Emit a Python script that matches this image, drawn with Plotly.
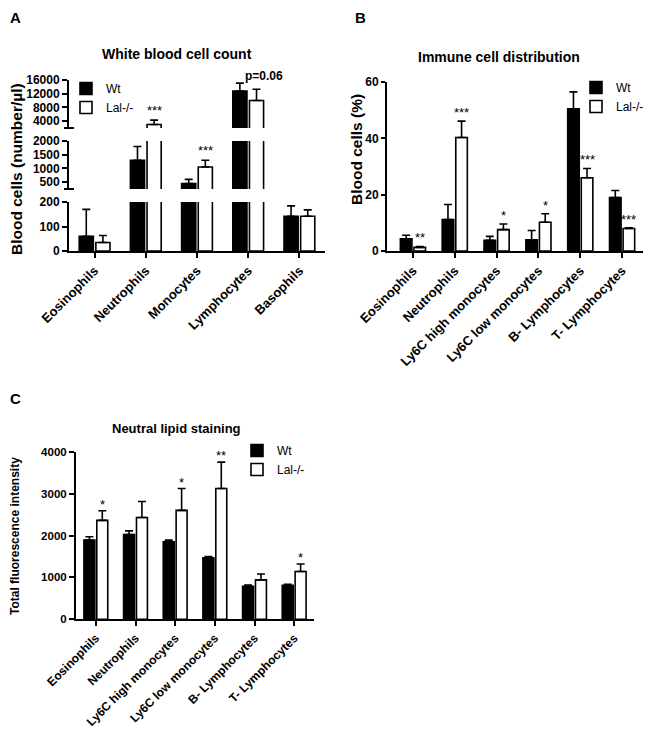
import plotly.graph_objects as go

W, H = 650, 739
FONT = "Liberation Sans, Arial, Helvetica, sans-serif"


def fx(p):
    return p / W


def fy(p):
    return 1 - p / H


# ---------------- Panel A data: White blood cell count ----------------
a_cats = ["Eosinophils", "Neutrophils", "Monocytes", "Lymphocytes", "Basophils"]
a_wt = [60, 1300, 450, 12800, 142]
a_wt_err = [110, 500, 150, 2300, 42]
a_lal = [35, 3000, 1050, 10000, 142]
a_lal_err = [28, 1300, 250, 3300, 26]
a_sig = ["", "***", "***", "p=0.06", ""]

# ---------------- Panel B data: Immune cell distribution ----------------
b_cats = ["Eosinophils", "Neutrophils", "Ly6C high monocytes", "Ly6C low monocytes",
          "B- Lymphocytes", "T- Lymphocytes"]
b_wt = [4.3, 11.2, 3.8, 4.0, 50.5, 19.0]
b_wt_err = [1.3, 5.3, 1.4, 3.3, 6.0, 2.5]
b_lal = [1.3, 40.3, 7.6, 10.2, 26.0, 8.0]
b_lal_err = [0.3, 5.8, 2.0, 3.0, 3.3, 0.2]
b_sig = ["**", "***", "*", "*", "***", "***"]

# ---------------- Panel C data: Neutral lipid staining ----------------
c_cats = ["Eosinophils", "Neutrophils", "Ly6C high monocytes", "Ly6C low monocytes",
          "B- Lymphocytes", "T- Lymphocytes"]
c_wt = [1890, 2020, 1850, 1470, 790, 810]
c_wt_err = [80, 90, 40, 30, 30, 25]
c_lal = [2360, 2430, 2600, 3120, 940, 1140]
c_lal_err = [230, 380, 520, 630, 140, 180]
c_sig = ["*", "", "*", "**", "", "*"]

series_names = ["Wt", "Lal-/-"]
fills = ["black", "white"]

fig = go.Figure()


def add_pair(cats, wt, wt_err, lal, lal_err, xa, ya, legend, show):
    for name, vals, errs, fill in zip(series_names, [wt, lal], [wt_err, lal_err], fills):
        fig.add_trace(go.Bar(
            x=cats, y=vals, name=name, xaxis=xa, yaxis=ya,
            marker=dict(color=fill, line=dict(color="black", width=1.6)),
            error_y=dict(type="data", symmetric=False, array=errs,
                         arrayminus=[0] * len(errs), color="black",
                         thickness=1.6, width=4),
            legend=legend, showlegend=show, hoverinfo="x+y",
        ))


# Panel A: three stacked segments of a broken y axis
add_pair(a_cats, a_wt, a_wt_err, a_lal, a_lal_err, "x", "y", "legend", False)
add_pair(a_cats, a_wt, a_wt_err, a_lal, a_lal_err, "x", "y2", "legend", False)
add_pair(a_cats, a_wt, a_wt_err, a_lal, a_lal_err, "x", "y3", "legend", True)
# Panel B
add_pair(b_cats, b_wt, b_wt_err, b_lal, b_lal_err, "x2", "y4", "legend2", True)
# Panel C
add_pair(c_cats, c_wt, c_wt_err, c_lal, c_lal_err, "x3", "y5", "legend3", True)

axis_common = dict(showline=True, linewidth=2, linecolor="black", showgrid=False,
                   zeroline=False, ticks="outside", ticklen=5, tickwidth=2,
                   tickcolor="black", automargin=False)


def xax(domain, anchor, rng, size):
    d = dict(axis_common)
    d.update(domain=domain, anchor=anchor, range=rng, type="category",
             tickangle=-45, tickfont=dict(family=FONT, size=size, color="black",
                                          weight="bold"))
    return d


def yax(domain, anchor, rng, vals, texts, size=12, ticklen=5):
    d = dict(axis_common)
    d.update(domain=domain, anchor=anchor, range=rng, tickvals=vals,
             ticktext=texts, ticklen=ticklen,
             tickfont=dict(family=FONT, size=size, color="black", weight="bold"))
    return d


def legend_cfg(px, py, size):
    return dict(x=fx(px), y=fy(py), xanchor="left", yanchor="top",
                font=dict(family=FONT, size=size, color="black"),
                bgcolor="rgba(0,0,0,0)", tracegroupgap=0)


fig.update_layout(
    width=W, height=H, margin=dict(l=0, r=0, t=0, b=0, autoexpand=False),
    paper_bgcolor="white", plot_bgcolor="white",
    barmode="group", bargap=0.35, bargroupgap=0.15,
    font=dict(family=FONT, color="black"),
    xaxis=xax([fx(69), fx(325)], "y", [-0.5, 4.5], 13),
    yaxis=yax([fy(251), fy(202)], "x", [0, 200], [0, 100, 200], ["0", "100", "200"]),
    yaxis2=yax([fy(189), fy(141)], "x", [250, 2000], [500, 1000, 1500, 2000],
               ["500", "1000", "1500", "2000"]),
    yaxis3=yax([fy(128), fy(80)], "x", [2000, 16000], [4000, 8000, 12000, 16000],
               ["4000", "8000", "12000", "16000"]),
    xaxis2=xax([fx(387), fx(643)], "y4", [-0.62, 5.5], 13),
    yaxis4=yax([fy(251), fy(82)], "x2", [0, 60], [0, 20, 40, 60], ["0", "20", "40", "60"],
               ticklen=4),
    xaxis3=xax([fx(76), fx(314)], "y5", [-0.5, 5.5], 12),
    yaxis5=yax([fy(619.3), fy(451.7)], "x3", [0, 4000], [0, 1000, 2000, 3000, 4000],
               ["0", "1000", "2000", "3000", "4000"], size=11.5),
    legend=legend_cfg(66, 74, 12),
    legend2=legend_cfg(576, 73, 12),
    legend3=legend_cfg(237, 436, 12),
)

# Break marks at the lower ends of the upper two segments of panel A
for yr in ["y2 domain", "y3 domain"]:
    fig.add_shape(type="line", xref="paper", yref=yr, x0=fx(64), x1=fx(74), y0=0, y1=0,
                  line=dict(color="black", width=2))

ann = []


def text_ann(txt, px, py, size, bold=True, angle=0):
    ann.append(dict(text=txt, x=fx(px), y=fy(py), xref="paper", yref="paper",
                    xanchor="center", yanchor="middle", showarrow=False,
                    textangle=angle,
                    font=dict(family=FONT, size=size, color="black",
                              weight="bold" if bold else "normal")))


# Panel letters, titles, axis titles
text_ann("A", 15.5, 18, 15)
text_ann("B", 360, 18, 15)
text_ann("C", 15, 398, 15)
text_ann("White blood cell count", 177, 54, 14)
text_ann("Immune cell distribution", 499, 57, 14)
text_ann("Neutral lipid staining", 176, 428, 13)
text_ann("Blood cells (number/µl)", 16, 169, 15.5, angle=-90)
text_ann("Blood cells (%)", 356, 150, 15.5, angle=-90)
text_ann("Total fluorescence intensity", 15, 536, 12, angle=-90)


def sig_ann(cats, lal, lal_err, sig, xref, yref_for, slot_px, yshift):
    for i, s in enumerate(sig):
        if not s:
            continue
        top = lal[i] + lal_err[i]
        bold = s.startswith("p")
        ann.append(dict(text=s, x=cats[i], y=top, xref=xref, yref=yref_for(top),
                        xanchor="center", yanchor="bottom", showarrow=False,
                        xshift=slot_px / 2 + (7 if bold else 0),
                        yshift=yshift + (4 if bold else 0),
                        font=dict(family=FONT, size=12 if bold else 13, color="black",
                                  weight="bold" if bold else "normal")))


def a_yref(v):
    if v > 2000:
        return "y3"
    if v > 200:
        return "y2"
    return "y"


sig_ann(a_cats, a_lal, a_lal_err, a_sig, "x", a_yref, 51.2 * 0.65 / 2, 0)
sig_ann(b_cats, b_lal, b_lal_err, b_sig, "x2", lambda v: "y4", 41.8 * 0.65 / 2, -1)
sig_ann(c_cats, c_lal, c_lal_err, c_sig, "x3", lambda v: "y5", 39.7 * 0.65 / 2, -3)

fig.update_layout(annotations=ann)

fig.write_html("out.html",
               config={"displayModeBar": False},
               post_script="document.body.style.margin='0px';"
                           "document.body.style.overflow='hidden';")
